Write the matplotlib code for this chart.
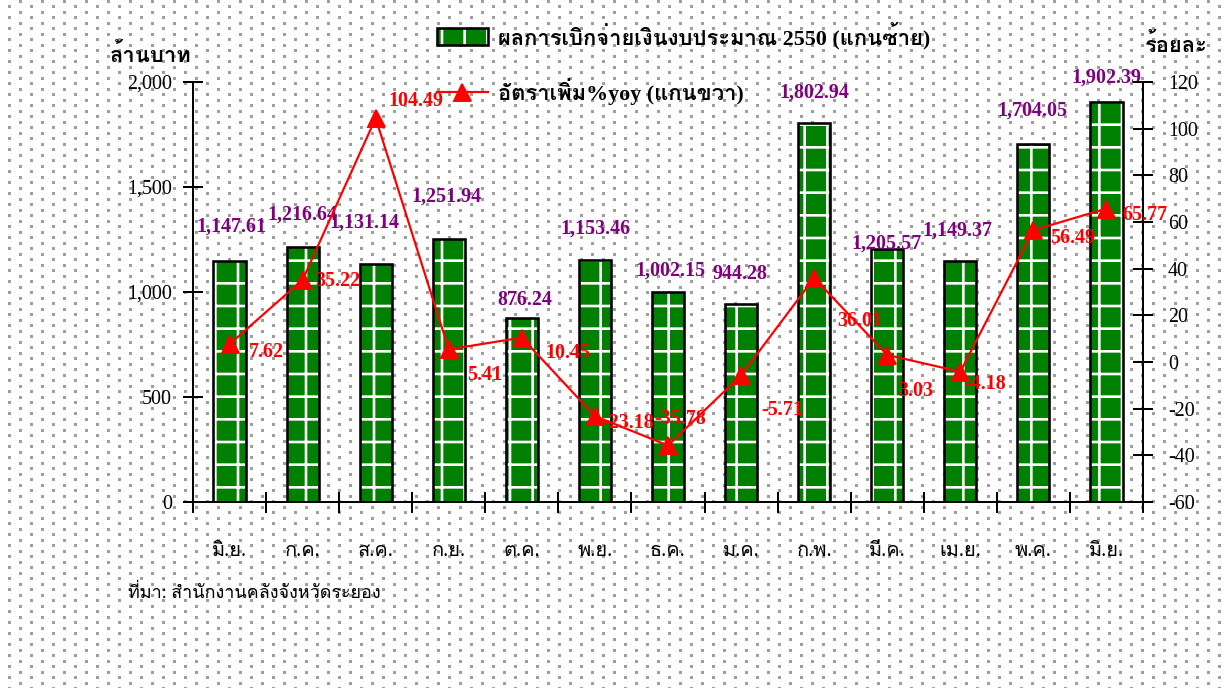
import numpy as np
import matplotlib
matplotlib.use("Agg")
import matplotlib.pyplot as plt
from matplotlib import font_manager
from matplotlib.ft2font import FT2Font
from matplotlib.patches import Patch
from matplotlib.legend_handler import HandlerTuple
from matplotlib.ticker import FixedLocator, StrMethodFormatter

months = ["มิ.ย.", "ก.ค.", "ส.ค.", "ก.ย.", "ต.ค.", "พ.ย.", "ธ.ค.",
          "ม.ค.", "ก.พ.", "มี.ค.", "เม.ย.", "พ.ค.", "มิ.ย."]
spending = [1147.61, 1216.64, 1131.14, 1251.94, 876.24, 1153.46, 1002.15,
            944.28, 1802.94, 1205.57, 1149.37, 1704.05, 1902.39]
yoy = [7.62, 35.22, 104.49, 5.41, 10.45, -23.18, -35.78,
       -5.71, 36.01, 3.03, -4.18, 56.49, 65.77]

bar_label = "ผลการเบิกจ่ายเงินงบประมาณ 2550 (แกนซ้าย)"
line_label = "อัตราเพิ่ม%yoy (แกนขวา)"
left_title = "ล้านบาท"
right_title = "ร้อยละ"
source = "ที่มา: สำนักงานคลังจังหวัดระยอง"

# label offsets in pixels (dx, dy), dy positive = down
bar_lbl_off = [(2, -34), (0, -32), (-11, -42), (-2, -42), (3, -18), (1, -31), (2, -21),
               (-1, -30), (0, -31), (-1, -5), (-3, -30), (-1, -34), (0, -25)]
yoy_lbl_off = [(37, 8), (35, 1), (40, -17), (36, 26), (46, 15), (33, 7), (12, -26),
               (41, 35), (46, 43), (28, 36), (25, 12), (39, 8), (38, 6)]

GREEN = '#008000'


def find_thai_font():
    for f in font_manager.fontManager.ttflist:
        try:
            cmap = FT2Font(f.fname).get_charmap()
        except Exception:
            continue
        if 0x0E01 in cmap and 0x0E32 in cmap:
            return f.name
    return "DejaVu Sans"


thai = find_thai_font()
plt.rcParams['font.family'] = ['Liberation Serif', thai, 'DejaVu Sans']
plt.rcParams['axes.unicode_minus'] = False
plt.rcParams['hatch.linewidth'] = 1.4

W, H, DPI = 1225, 688, 136
PX = 72 / DPI  # points per pixel

fig = plt.figure(figsize=(W / DPI, H / DPI), dpi=DPI, facecolor='white')

# dotted background
bg = np.ones((H, W, 3))
for i, x in enumerate(range(8, W, 11)):
    y0 = 5 if i % 2 == 0 else 0
    for y in range(y0, H, 11):
        bg[y:y + 3, x:x + 3] = 0.62
fig.figimage(bg, 0, 0, zorder=-1, origin='upper')

ax = fig.add_axes([193 / W, 1 - 502 / H, 950 / W, 420 / H])
ax.set_facecolor('none')
ax2 = ax.twinx()

x = np.arange(len(months))
ax.bar(x, spending, width=0.44, color=GREEN, edgecolor='white',
       hatch='+', linewidth=0, zorder=2)
ax.bar(x, spending, width=0.44, fill=False, edgecolor='black', linewidth=2.6 * PX, zorder=3)

line, = ax2.plot(x, yoy, color='#ff0000', linewidth=2.2 * PX, marker='^',
                 markersize=17 * PX, label=line_label)

ax.set_xlim(-0.5, len(months) - 0.5)
ax.set_ylim(0, 2000)
ax2.set_ylim(-60, 120)
ax.yaxis.set_major_locator(FixedLocator([0, 500, 1000, 1500, 2000]))
ax.yaxis.set_major_formatter(StrMethodFormatter('{x:,.0f}'))
ax2.yaxis.set_major_locator(FixedLocator(list(range(-60, 121, 20))))

ax.set_xticks(np.arange(-0.5, len(months), 1.0))
ax.set_xticklabels([])
ax.set_xticks(x, minor=True)
ax.set_xticklabels(months, minor=True, fontsize=20 * PX)
ax.tick_params(axis='x', which='minor', length=0, pad=40 * PX)
ax.tick_params(axis='x', which='major', direction='inout', length=21 * PX, width=2 * PX)
ax.tick_params(axis='y', direction='inout', length=20 * PX, width=2 * PX,
               labelsize=20 * PX, pad=11 * PX)
ax2.tick_params(axis='y', direction='inout', length=20 * PX, width=2 * PX,
                labelsize=20 * PX, pad=15 * PX)

for a in (ax, ax2):
    a.spines['top'].set_visible(False)
    for s in ('left', 'right', 'bottom'):
        a.spines[s].set_linewidth(2 * PX)
ax.spines['right'].set_visible(False)
ax2.spines['left'].set_visible(False)
ax2.spines['bottom'].set_visible(False)

for i, v in enumerate(spending):
    dx, dy = bar_lbl_off[i]
    ax.annotate(f"{v:,.2f}", (i, v), xytext=(dx * PX, -dy * PX), textcoords='offset points',
                ha='center', va='center', color='#800080', fontweight='bold',
                fontsize=20 * PX, zorder=5)
for i, v in enumerate(yoy):
    dx, dy = yoy_lbl_off[i]
    ax2.annotate(f"{v:.2f}", (i, v), xytext=(dx * PX, -dy * PX), textcoords='offset points',
                 ha='center', va='center', color='#ff0000', fontweight='bold',
                 fontsize=20 * PX, zorder=5)

# legend: green box with white stripes and black frame (overlaid)
fill_patch = Patch(facecolor=GREEN, edgecolor='white', hatch='|', linewidth=0)
frame_patch = Patch(fill=False, edgecolor='black', linewidth=2.6 * PX)
fig.legend(handles=[(fill_patch, frame_patch), line], labels=[bar_label, line_label],
           handler_map={tuple: HandlerTuple(ndivide=1)},
           loc='upper left', bbox_to_anchor=(437 / W, 1 - 22 / H), frameon=False,
           borderpad=0, borderaxespad=0, prop={'weight': 'bold', 'size': 22 * PX},
           handlelength=2.3, handleheight=0.8, handletextpad=0.45, labelspacing=1.3)

fig.text(110 / W, 1 - 55 / H, left_title, fontsize=22 * PX, fontweight='bold',
         ha='left', va='center')
fig.text(1145 / W, 1 - 45 / H, right_title, fontsize=22 * PX, fontweight='bold',
         ha='left', va='center')
fig.text(128 / W, 1 - 593 / H, source, fontsize=18 * PX, ha='left', va='center')

fig.savefig("out.png", dpi=DPI, facecolor='white')
